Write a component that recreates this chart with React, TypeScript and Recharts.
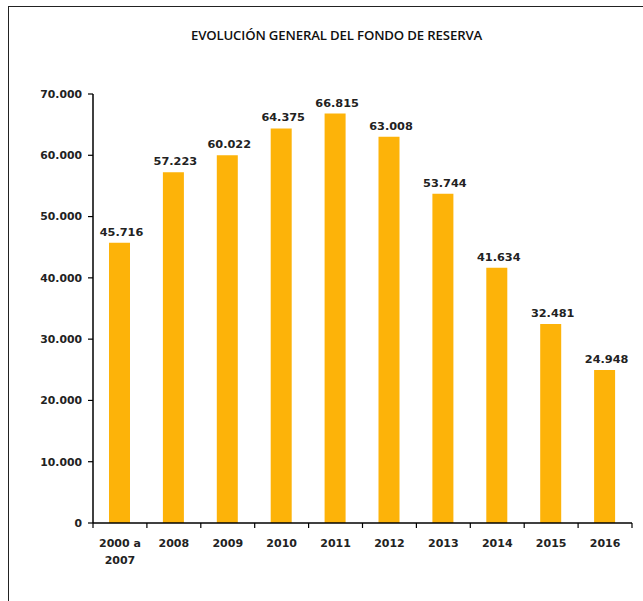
import { BarChart, Bar, XAxis, YAxis, LabelList } from "recharts";

const categories = ["2000 a 2007", "2008", "2009", "2010", "2011", "2012", "2013", "2014", "2015", "2016"];
const reserveValues = [45716, 57223, 60022, 64375, 66815, 63008, 53744, 41634, 32481, 24948];
const yTicks = [0, 10000, 20000, 30000, 40000, 50000, 60000, 70000];

const data = categories.map((name, i) => ({ name, value: reserveValues[i] }));

const fmt = (v: number) => (v === 0 ? "0" : v.toLocaleString("de-DE"));

const FONT = "'DejaVu Sans', Verdana, sans-serif";

// category tick: text centred, tick marks on the band boundaries
const CategoryTick = (props: any) => {
  const { x, y, payload, index } = props;
  const half = payload.offset || 0;
  const lines = String(payload.value).split(" a ");
  const isLast = index === categories.length - 1;
  return (
    <g>
      <line x1={x - half} x2={x - half} y1={y - 8} y2={y - 3} stroke="#000" strokeWidth={1.2} />
      {isLast && (
        <line x1={x + half} x2={x + half} y1={y - 8} y2={y - 3} stroke="#000" strokeWidth={1.2} />
      )}
      {lines.length > 1 ? (
        <text x={x} y={y + 16} textAnchor="middle" fontFamily={FONT} fontWeight="bold" fontSize={11} fill="#222">
          <tspan x={x} dy={0}>{lines[0] + " a"}</tspan>
          <tspan x={x} dy={17}>{lines[1]}</tspan>
        </text>
      ) : (
        <text x={x} y={y + 16} textAnchor="middle" fontFamily={FONT} fontWeight="bold" fontSize={11} fill="#222">
          {lines[0]}
        </text>
      )}
    </g>
  );
};

export default function App() {
  return (
    <div style={{ position: "absolute", left: 0, top: 0, width: 643, height: 601, background: "#fff" }}>
      <div
        style={{
          position: "absolute",
          left: 8,
          top: 6,
          width: 635,
          height: 595,
          borderTop: "1px solid #222",
          borderLeft: "1px solid #222",
        }}
      />
      <div
        style={{
          position: "absolute",
          left: 0,
          width: 643,
          top: 26,
          textAlign: "center",
          fontFamily: "'Open Sans', sans-serif",
          fontSize: 13.2,
          fontWeight: 600,
          letterSpacing: -0.15,
          color: "#111",
          paddingLeft: 30,
          boxSizing: "border-box",
        }}
      >
        EVOLUCIÓN GENERAL DEL FONDO DE RESERVA
      </div>
      <BarChart
        width={643}
        height={601}
        data={data}
        margin={{ top: 94, right: 11, bottom: 48, left: 13 }}
        style={{ position: "absolute", left: 0, top: 0 }}
      >
        <XAxis
          dataKey="name"
          height={30}
          interval={0}
          tickLine={false}
          axisLine={{ stroke: "#000", strokeWidth: 1.5 }}
          tick={<CategoryTick />}
        />
        <YAxis
          width={80}
          domain={[0, 70000]}
          ticks={yTicks}
          tickFormatter={fmt}
          tickSize={5}
          tickMargin={6}
          tickLine={{ stroke: "#000", strokeWidth: 1.2 }}
          axisLine={{ stroke: "#000", strokeWidth: 1.5 }}
          tick={{ fontFamily: FONT, fontWeight: "bold", fontSize: 10.8, fill: "#222" }}
        />
        <Bar dataKey="value" fill="#FDB309" barSize={21} isAnimationActive={false}>
          <LabelList
            dataKey="value"
            position="top"
            offset={7}
            dx={2}
            formatter={(v: any) => fmt(Number(v))}
            style={{ fontFamily: FONT, fontWeight: "bold", fontSize: 11.3, fill: "#222" }}
          />
        </Bar>
      </BarChart>
    </div>
  );
}
